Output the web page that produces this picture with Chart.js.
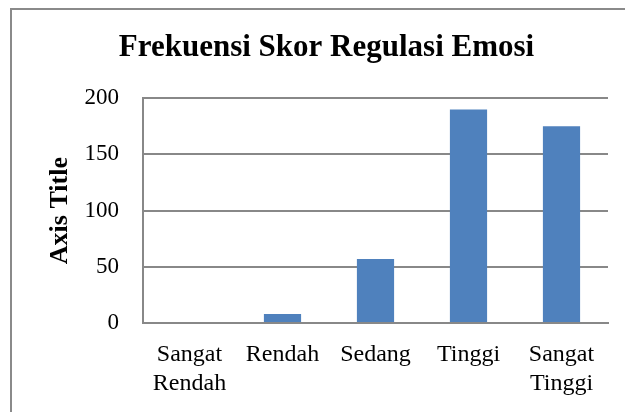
<!DOCTYPE html>
<html>
<head>
<meta charset="utf-8">
<script src="https://cdn.jsdelivr.net/npm/chart.js@4/dist/chart.umd.min.js"></script>
<style>
  html, body { margin: 0; padding: 0; background: #fff; }
  #wrap { width: 625px; height: 412px; }
</style>
</head>
<body>
<div id="wrap"><canvas id="barChart" width="625" height="412"></canvas></div>
<script>
const categories = [['Sangat', 'Rendah'], 'Rendah', 'Sedang', 'Tinggi', ['Sangat', 'Tinggi']];
const frekuensi = [0, 8, 57, 190, 175];
const yTicks = [0, 50, 100, 150, 200];

const serif = "'Liberation Serif', 'DejaVu Serif', serif";

// grey frame round the chart (only top and left edges show in the picture)
const frame = {
    id: 'frame',
    beforeDraw(chart) {
        const c = chart.ctx;
        c.save();
        c.fillStyle = '#fff';
        c.fillRect(0, 0, chart.width, chart.height);
        c.strokeStyle = '#8a8a8a';
        c.lineWidth = 2;
        c.beginPath();
        c.moveTo(11, chart.height);
        c.lineTo(11, 9);
        c.lineTo(chart.width, 9);
        c.stroke();
        c.restore();
    }
};

document.addEventListener("DOMContentLoaded", () => {
    const ctx = document.getElementById('barChart').getContext('2d');

    new Chart(ctx, {
        type: 'bar',
        data: {
            labels: categories,
            datasets: [{
                label: 'Frekuensi',
                data: frekuensi,
                backgroundColor: '#4F81BD',
                barPercentage: 0.4,
                categoryPercentage: 1
            }]
        },
        options: {
            responsive: false,
            animation: false,
            layout: {
                padding: { top: 0, left: 45, right: 17, bottom: 0 }
            },
            scales: {
                x: {
                    grid: { display: false, drawTicks: false },
                    border: { display: true, color: '#888', width: 2 },
                    ticks: {
                        color: '#000',
                        padding: 18,
                        maxRotation: 0,
                        autoSkip: false,
                        font: { family: serif, size: 24, lineHeight: 1.18 }
                    },
                    afterFit(scale) { scale.height = 89; }
                },
                y: {
                    min: 0,
                    max: 200,
                    afterBuildTicks(scale) {
                        scale.ticks = yTicks.map(v => ({ value: v }));
                    },
                    grid: { color: '#888', lineWidth: 2, drawTicks: false },
                    border: { display: true, color: '#888', width: 2 },
                    ticks: {
                        color: '#000',
                        padding: 24,
                        font: { family: serif, size: 23 }
                    },
                    title: {
                        display: true,
                        text: 'Axis Title',
                        color: '#000',
                        padding: 0,
                        font: { family: serif, size: 26, weight: 'bold' }
                    },
                    afterFit(scale) { scale.width = 98; }
                }
            },
            plugins: {
                legend: { display: false },
                tooltip: { enabled: false },
                title: {
                    display: true,
                    text: 'Frekuensi Skor Regulasi Emosi',
                    color: '#000',
                    padding: { top: 29, bottom: 32 },
                    font: { family: serif, size: 31, weight: 'bold' }
                }
            }
        },
        plugins: [frame]
    });
});
</script>
</body>
</html>
